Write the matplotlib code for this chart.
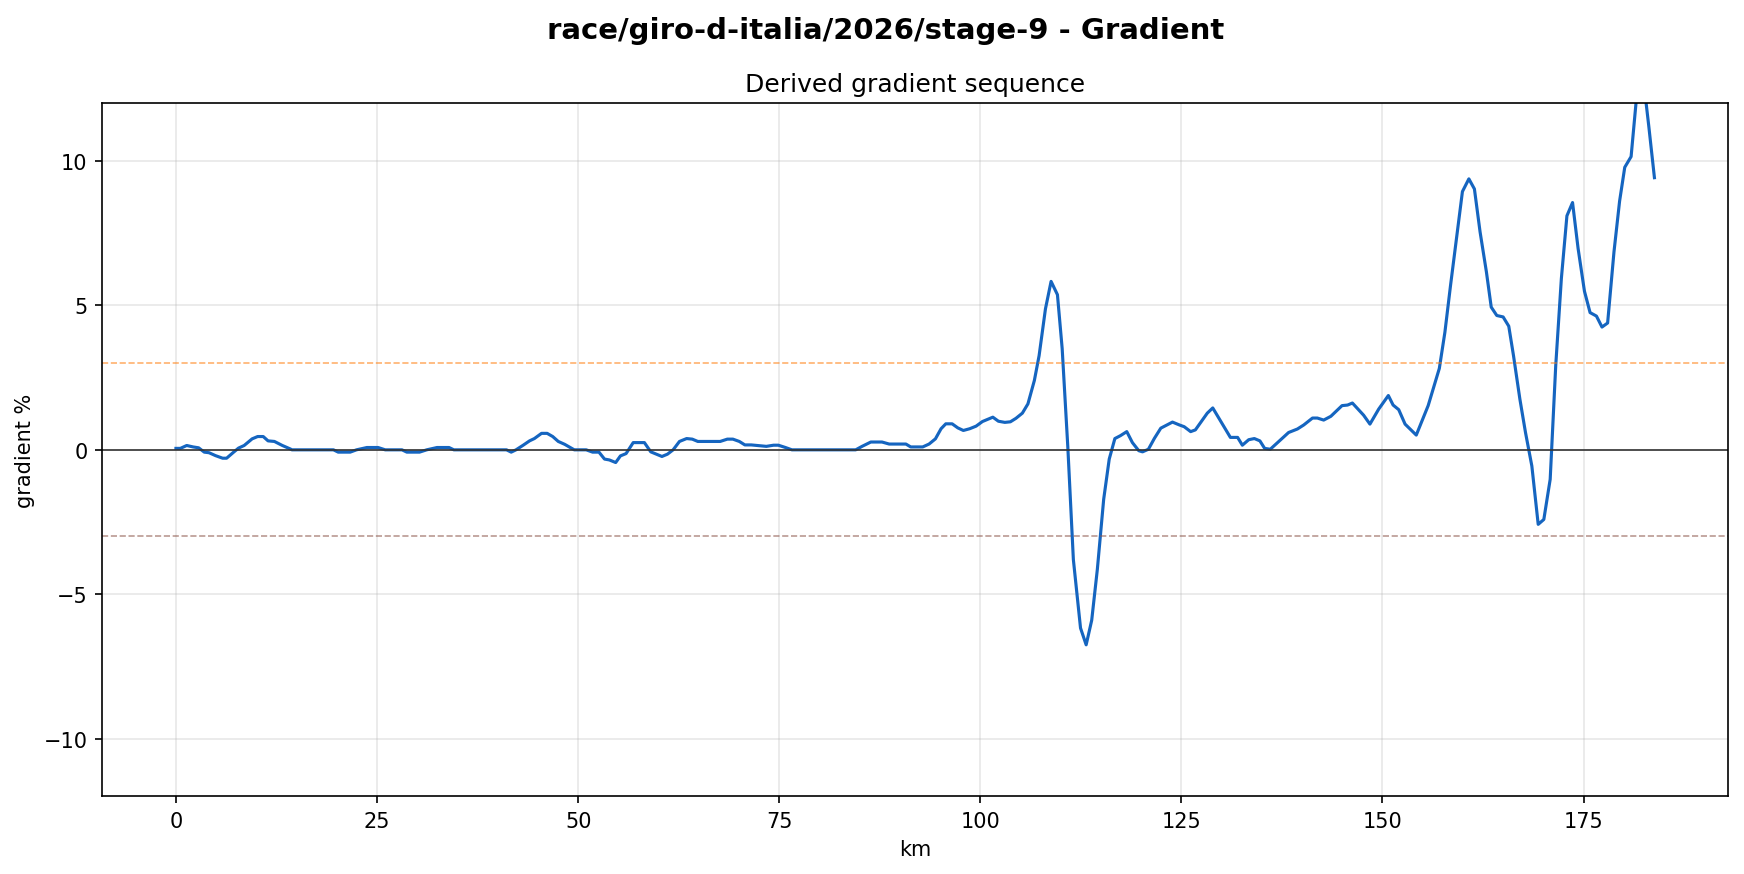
import matplotlib
matplotlib.use("Agg")
import matplotlib.pyplot as plt

# Stage name and reference thresholds
stage = "race/giro-d-italia/2026/stage-9"
climb_threshold = 3.0
descent_threshold = -3.0

# Distance (km) and derived gradient (%) read from the profile
km = [
    0.0, 0.55, 1.34, 2.13, 2.82, 3.52, 4.11, 4.91, 5.8, 6.3,
    7.09, 7.78, 8.48, 9.47, 10.16, 10.85, 11.45, 12.24, 13.23, 14.22,
    14.42, 19.58, 20.17, 21.66, 22.45, 23.74, 25.13, 26.02, 28.1, 28.7,
    30.28, 31.18, 32.46, 33.95, 34.55, 39.0, 41.09, 41.68, 42.28, 43.17,
    43.96, 44.56, 45.45, 46.15, 46.84, 47.53, 48.33, 49.52, 51.0, 51.8,
    52.59, 53.28, 53.88, 54.67, 55.26, 55.96, 56.85, 58.24, 59.03, 59.73,
    60.42, 61.11, 61.81, 62.6, 63.49, 64.19, 64.88, 67.66, 68.55, 69.24,
    70.04, 70.73, 71.52, 73.4, 74.3, 74.89, 75.78, 76.58, 84.51, 85.3,
    86.39, 87.78, 88.67, 90.75, 91.35, 92.84, 93.63, 94.42, 95.12, 95.71,
    96.5, 97.2, 97.89, 98.68, 99.48, 100.27, 101.56, 102.25, 103.05, 103.74,
    104.43, 105.23, 105.92, 106.72, 107.31, 108.1, 108.8, 109.59, 110.18, 110.88,
    111.57, 112.46, 113.16, 113.85, 114.55, 115.34, 116.03, 116.73, 117.42, 118.21,
    118.91, 119.7, 120.17, 120.9, 121.65, 122.44, 123.2, 123.89, 124.76, 125.35,
    126.15, 126.74, 128.22, 128.9, 131.09, 131.99, 132.58, 133.37, 134.07, 134.76,
    135.35, 136.05, 138.33, 139.42, 140.21, 141.3, 141.9, 142.69, 143.58, 144.18,
    144.97, 145.66, 146.26, 147.65, 148.44, 149.53, 150.73, 151.32, 152.02, 152.81,
    154.2, 155.68, 157.07, 157.76, 158.46, 159.25, 159.94, 160.74, 161.43, 162.13,
    162.92, 163.52, 164.21, 165.0, 165.7, 166.29, 167.08, 167.78, 168.57, 169.36,
    170.06, 170.85, 171.54, 172.24, 172.93, 173.63, 174.32, 175.11, 175.81, 176.6,
    177.29, 177.99, 178.78, 179.48, 180.12, 180.91, 181.65, 182.36, 183.11, 183.81,
]
gradient = [
    0.05, 0.05, 0.15, 0.1, 0.07, -0.08, -0.1, -0.2, -0.29, -0.29,
    -0.1, 0.06, 0.15, 0.38, 0.46, 0.46, 0.31, 0.29, 0.15, 0.03,
    0.0, 0.0, -0.08, -0.08, 0.0, 0.08, 0.08, 0.0, 0.0, -0.08,
    -0.08, 0.0, 0.08, 0.08, 0.0, 0.0, 0.0, -0.08, 0.0, 0.16,
    0.31, 0.39, 0.57, 0.57, 0.46, 0.29, 0.19, 0.0, 0.0, -0.08,
    -0.08, -0.32, -0.35, -0.44, -0.21, -0.13, 0.25, 0.25, -0.07, -0.15,
    -0.23, -0.15, 0.0, 0.29, 0.39, 0.37, 0.29, 0.29, 0.37, 0.37,
    0.29, 0.17, 0.17, 0.12, 0.16, 0.16, 0.08, 0.0, 0.0, 0.12,
    0.27, 0.27, 0.2, 0.2, 0.1, 0.1, 0.2, 0.38, 0.73, 0.9,
    0.9, 0.76, 0.67, 0.73, 0.82, 0.98, 1.13, 0.99, 0.95, 0.97,
    1.09, 1.27, 1.59, 2.4, 3.26, 4.88, 5.83, 5.37, 3.5, 0.1,
    -3.8, -6.17, -6.75, -5.9, -4.14, -1.71, -0.32, 0.39, 0.49, 0.63,
    0.25, -0.03, -0.07, 0.02, 0.4, 0.75, 0.86, 0.96, 0.86, 0.8,
    0.63, 0.69, 1.27, 1.45, 0.43, 0.43, 0.16, 0.35, 0.39, 0.31,
    0.05, 0.02, 0.6, 0.72, 0.86, 1.1, 1.1, 1.03, 1.16, 1.32,
    1.53, 1.55, 1.62, 1.2, 0.89, 1.41, 1.88, 1.55, 1.39, 0.89,
    0.51, 1.53, 2.82, 4.07, 5.69, 7.43, 8.94, 9.38, 9.03, 7.55,
    6.16, 4.94, 4.65, 4.6, 4.28, 3.26, 1.76, 0.6, -0.56, -2.58,
    -2.41, -1.02, 2.92, 5.93, 8.1, 8.56, 6.97, 5.49, 4.75, 4.63,
    4.25, 4.39, 6.85, 8.61, 9.78, 10.15, 12.4, 13.0, 11.2, 9.42,
]

fig, ax = plt.subplots(figsize=(11.627, 5.833), dpi=150)
fig.subplots_adjust(left=0.0585, right=0.991, top=0.881, bottom=0.0886)

ax.plot(km, gradient, color="#1565c0", linewidth=1.5)

# Reference lines
ax.axhline(0, color="#333333", linewidth=0.8)
ax.axhline(climb_threshold, color="tab:orange", linestyle="--", linewidth=0.8, alpha=0.6)
ax.axhline(descent_threshold, color="tab:brown", linestyle="--", linewidth=0.8, alpha=0.6)

ax.set_ylim(-12, 12)
ax.grid(True, alpha=0.3)
ax.set_xlabel("km")
ax.set_ylabel("gradient %")
ax.set_title("Derived gradient sequence")
fig.suptitle(f"{stage} - Gradient", x=0.508, fontsize=14, fontweight="bold")

fig.savefig("out.png", dpi=150)
